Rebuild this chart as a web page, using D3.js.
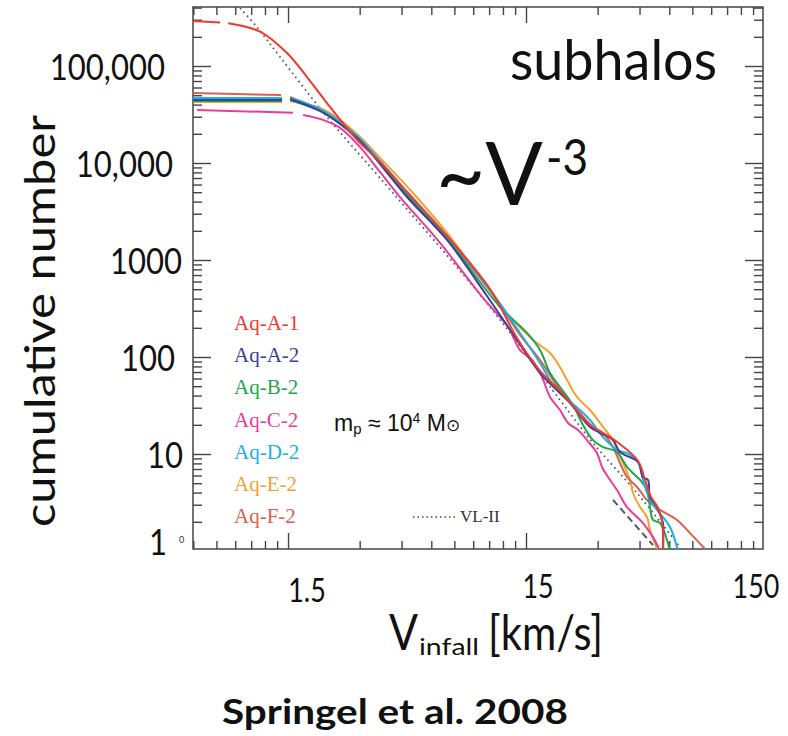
<!DOCTYPE html>
<html>
<head>
<meta charset="utf-8">
<script src="https://cdn.jsdelivr.net/npm/d3@7"></script>
<style>
  body { margin: 0; background: #fff; }
  svg { display: block; }
</style>
</head>
<body>
<div class="chart"></div>
<script>
// Each point is [V_infall (km/s), cumulative number of subhalos].
// null splits the unresolved plateau from the resolved part of a curve.
const aqA1 = [[0.598, 291000], [0.777, 281000], null,
  [0.840, 276000], [1.144, 226000], [1.485, 136000], [1.803, 77000], [2.252, 37800],
  [2.925, 17300], [3.653, 10240], [4.743, 5020], [6.986, 1770], [10.59, 502],
  [13.75, 157], [17.18, 71.7], [20.84, 44.6], [27.86, 19.9], [34.80, 14.3],
  [44.34, 8.47], [47.43, 5.40], [50.27, 3.60], [53.27, 2.91], [55.92, 2.04], [56.46, 1]];

const aqA2 = [[0.598, 44600], [1.416, 44600], null,
  [1.529, 45700], [2.044, 34400], [2.481, 25200], [3.011, 16900], [3.653, 9770],
  [4.743, 4460], [6.986, 1610], [10.28, 426], [13.75, 150], [17.18, 68.4],
  [20.84, 42.6], [22.96, 33.6], [27.86, 19.0], [30.69, 16.5], [34.80, 13.9],
  [37.24, 10.5], [44.34, 8.27], [46.53, 5.79], [48.83, 5.40], [49.78, 3.60],
  [53.27, 2.84], [55.92, 2.09], [56.46, 1.94], [56.46, 1]];

const aqB2 = [[0.598, 43600], [1.416, 43600], null,
  [1.529, 44600], [2.044, 34400], [2.481, 25900], [3.011, 17300], [3.653, 10000],
  [4.743, 4680], [6.986, 1650], [11.66, 328], [15.15, 177], [17.18, 118],
  [18.92, 68.4], [20.84, 49.1], [23.64, 32.0], [26.04, 19.9], [28.68, 13.9],
  [31.59, 11.8], [36.17, 10.5], [39.86, 7.35], [45.21, 5.40], [48.36, 4.25],
  [49.78, 2.84], [51.25, 2.09], [54.84, 1.94], [58.69, 1.30], [60.41, 1]];

const aqC2 = [[0.622, 35200], [1.574, 33000], null,
  [1.735, 31300], [2.104, 27800], [2.481, 23000], [3.011, 14600], [3.653, 8080],
  [4.433, 4460], [6.528, 1500], [9.895, 406], [12.60, 204], [14.16, 118],
  [15.90, 93.1], [17.51, 62.2], [18.92, 38.7], [20.84, 28.4], [22.52, 20.9],
  [24.81, 17.7], [27.06, 13.9], [29.82, 10.2], [31.29, 7.35], [33.16, 5.79],
  [36.17, 4.25], [39.86, 2.84], [46.53, 1.94], [51.25, 1.39], [54.84, 1]];

const aqD2 = [[0.598, 46800], [1.416, 46800], null,
  [1.529, 46800], [2.044, 36000], [2.481, 26500], [3.011, 17700], [3.653, 10500],
  [4.743, 5020], [6.986, 1770], [10.59, 491], [14.16, 177], [17.18, 86.7],
  [18.92, 57.9], [20.84, 42.6], [25.29, 28.4], [27.86, 22.4], [31.59, 15.0],
  [36.17, 11.0], [39.86, 10.2], [44.34, 8.27], [46.53, 5.40], [49.78, 3.36],
  [53.27, 2.65], [60.41, 1.77], [65.28, 1]];

const aqE2 = [[0.598, 42600], [1.416, 42600], null,
  [1.529, 43600], [2.044, 36900], [2.481, 27800], [3.011, 18500], [3.653, 11300],
  [5.027, 4910], [6.986, 1900], [9.612, 668], [10.59, 491], [12.48, 284],
  [16.05, 150], [18.92, 110], [20.84, 78.9], [22.31, 57.9], [24.57, 38.7],
  [27.86, 28.4], [31.59, 19.0], [34.80, 13.9], [36.17, 11.0], [38.34, 8.08],
  [41.03, 5.40], [42.24, 3.96], [45.21, 2.84], [48.36, 2.24], [49.78, 1.65], [53.79, 1]];

const aqF2 = [[0.598, 52700], [1.402, 50200], null,
  [1.529, 47900], [2.044, 35200], [2.481, 26500], [3.011, 17700], [3.653, 10240],
  [4.743, 4790], [6.986, 1690], [10.59, 479], [14.16, 169], [17.18, 93.1],
  [20.84, 45.7], [25.29, 26.5], [28.68, 19.0], [31.59, 16.5], [34.80, 11.8],
  [37.24, 8.08], [39.86, 5.79], [43.91, 4.57], [48.36, 3.36], [54.84, 2.65],
  [64.65, 2.09], [73.31, 1.53], [86.44, 1]];

// Via Lactea II comparison (dotted) and the short dashed segment near the bottom
const vl2 = [[0.943, 396000], [1.111, 252000], [1.388, 124000], [2.188, 29800],
  [3.653, 7000], [10.59, 328], [20.84, 36.0], [28.68, 13.0], [43.91, 3.96], [66.56, 1.10]];
const dashedTail = [[34.80, 3.36], [51.25, 1.15]];

const seriesNames = ["Aq-A-1", "Aq-A-2", "Aq-B-2", "Aq-C-2", "Aq-D-2", "Aq-E-2", "Aq-F-2"];
const seriesData = [aqA1, aqA2, aqB2, aqC2, aqD2, aqE2, aqF2];
const seriesColors = ["#ef3a2e", "#3c3f9c", "#1fa64a", "#ea3d98", "#1eaee6", "#f6a12e", "#d8604e"];
const drawOrder = [5, 6, 2, 4, 3, 1, 0];

const yTickValues = [1, 10, 100, 1000, 10000, 100000];
const yTickLabels = ["1", "10", "100", "1000", "10,000", "100,000"];
const xTickValues = [1.5, 15, 150];
const xTickLabels = ["1.5", "15", "150"];

// layout
const W = 788, H = 736;
const frame = {left: 193, right: 763, top: 7, bottom: 549};
const yLabelRight = [167, 183, 175, 182, 173, 165];   // right end of each y label
const xLabelShift = [19, 12, -8];

const svg = d3.select(".chart").append("svg")
  .attr("width", W).attr("height", H)
  .style("font-family", "Lato, 'Open Sans', sans-serif");

const x = d3.scaleLog().domain([0.598, 148.6]).range([frame.left, frame.right]);
const y = d3.scaleLog().domain([1.0486, 405800]).range([frame.bottom, frame.top]);

svg.append("clipPath").attr("id", "plot")
  .append("rect")
  .attr("x", frame.left).attr("y", frame.top)
  .attr("width", frame.right - frame.left).attr("height", frame.bottom - frame.top);

// tick values: majors at decades, minors at the in-between multiples
const xMajor = xTickValues.filter(v => v <= 148.6);
const xMinor = [];
[-1, 0, 1, 2].forEach(k => {
  for (let m = 2; m <= 9; m++) {
    const v = 1.5 * m * Math.pow(10, k);
    if (v >= 0.597 && v <= 148.6) xMinor.push(v);
  }
});
const yMajor = yTickValues.filter(v => v >= 1.0486);
const yMinor = [];
for (let k = 0; k <= 5; k++) {
  for (let m = 2; m <= 9; m++) {
    const v = m * Math.pow(10, k);
    if (v <= 405800) yMinor.push(v);
  }
}

function tickGroup(axis, tx, ty) {
  const g = svg.append("g")
    .attr("transform", `translate(${tx},${ty})`)
    .call(axis);
  g.select(".domain").remove();
  g.selectAll("line").attr("stroke", "#444").attr("stroke-width", 1.4);
  g.selectAll("text").remove();
}

tickGroup(d3.axisBottom(x).tickValues(xMinor).tickSize(-8).tickFormat(""), 0, frame.bottom);
tickGroup(d3.axisBottom(x).tickValues(xMajor).tickSize(-16).tickFormat(""), 0, frame.bottom);
tickGroup(d3.axisTop(x).tickValues(xMinor).tickSize(-8).tickFormat(""), 0, frame.top);
tickGroup(d3.axisTop(x).tickValues(xMajor).tickSize(-16).tickFormat(""), 0, frame.top);
tickGroup(d3.axisLeft(y).tickValues(yMinor).tickSize(-9).tickFormat(""), frame.left, 0);
tickGroup(d3.axisLeft(y).tickValues(yMajor).tickSize(-18).tickFormat(""), frame.left, 0);
tickGroup(d3.axisRight(y).tickValues(yMinor).tickSize(-9).tickFormat(""), frame.right, 0);
tickGroup(d3.axisRight(y).tickValues(yMajor).tickSize(-18).tickFormat(""), frame.right, 0);

// frame
svg.append("rect")
  .attr("x", frame.left).attr("y", frame.top)
  .attr("width", frame.right - frame.left).attr("height", frame.bottom - frame.top)
  .attr("fill", "none").attr("stroke", "#444").attr("stroke-width", 1.5);

// curves
const line = d3.line()
  .defined(d => d !== null)
  .curve(d3.curveCatmullRom.alpha(0.5))
  .x(d => x(d[0]))
  .y(d => y(d[1]));

const plot = svg.append("g").attr("clip-path", "url(#plot)");

plot.append("path")
  .datum(vl2)
  .attr("d", line)
  .attr("fill", "none")
  .attr("stroke", "#555")
  .attr("stroke-width", 1.8)
  .attr("stroke-dasharray", "1.6,3.6");

drawOrder.forEach(i => {
  plot.append("path")
    .datum(seriesData[i])
    .attr("d", line)
    .attr("fill", "none")
    .attr("stroke", seriesColors[i])
    .attr("stroke-width", 2)
    .attr("stroke-linejoin", "round");
});

plot.append("path")
  .datum(dashedTail)
  .attr("d", line)
  .attr("fill", "none")
  .attr("stroke", "#555")
  .attr("stroke-width", 2)
  .attr("stroke-dasharray", "7,4");

// squeeze a text horizontally to look like the narrow original face
function squeeze(sel, f) {
  sel.each(function() {
    const w = this.getComputedTextLength();
    d3.select(this).attr("textLength", w * f).attr("lengthAdjust", "spacingAndGlyphs");
  });
}

// y tick labels
yTickValues.forEach((v, i) => {
  const t = svg.append("text")
    .attr("x", yLabelRight[i])
    .attr("y", Math.min(y(v) + 14, 555))
    .attr("text-anchor", "end")
    .attr("font-size", 37)
    .attr("fill", "#111")
    .text(yTickLabels[i]);
  squeeze(t, 0.84);
});
svg.append("text")
  .attr("x", 179).attr("y", 543)
  .attr("font-size", 9).attr("fill", "#333")
  .text("0");

// x tick labels
xTickValues.forEach((v, i) => {
  const t = svg.append("text")
    .attr("x", x(v) + xLabelShift[i])
    .attr("y", i === 0 ? 602 : 598)
    .attr("text-anchor", "middle")
    .attr("font-size", 32)
    .attr("fill", "#111")
    .text(xTickLabels[i]);
  squeeze(t, 0.84);
});

// axis titles
svg.append("text")
  .attr("transform", "translate(55,527) rotate(-90)")
  .attr("font-size", 42)
  .attr("fill", "#111")
  .attr("textLength", 412)
  .attr("lengthAdjust", "spacingAndGlyphs")
  .text("cumulative number");

svg.append("text").attr("x", 389).attr("y", 650)
  .attr("font-size", 50).attr("fill", "#111")
  .attr("textLength", 29).attr("lengthAdjust", "spacingAndGlyphs")
  .text("V");
svg.append("text").attr("x", 419).attr("y", 655)
  .attr("font-size", 24).attr("fill", "#111")
  .attr("textLength", 60).attr("lengthAdjust", "spacingAndGlyphs")
  .text("infall");
svg.append("text").attr("x", 488).attr("y", 650)
  .attr("font-size", 48).attr("fill", "#111")
  .attr("textLength", 115).attr("lengthAdjust", "spacingAndGlyphs")
  .text("[km/s]");

// annotations
svg.append("text").attr("x", 510).attr("y", 80)
  .attr("font-size", 56).attr("fill", "#111")
  .attr("textLength", 207).attr("lengthAdjust", "spacingAndGlyphs")
  .text("subhalos");

svg.append("text").attr("x", 436).attr("y", 205)
  .attr("font-size", 88).attr("fill", "#111")
  .attr("textLength", 107).attr("lengthAdjust", "spacingAndGlyphs")
  .text("~V");
svg.append("text").attr("x", 546).attr("y", 175)
  .attr("font-size", 50).attr("fill", "#111")
  .attr("textLength", 42).attr("lengthAdjust", "spacingAndGlyphs")
  .text("-3");

const mp = svg.append("text").attr("x", 334).attr("y", 431)
  .attr("font-family", "'Liberation Sans', Arial, sans-serif")
  .attr("font-size", 23).attr("fill", "#111");
mp.append("tspan").text("m");
mp.append("tspan").attr("font-size", 15).attr("dy", 3).text("p");
mp.append("tspan").attr("dy", -3).text(" \u2248 10");
mp.append("tspan").attr("font-size", 14).attr("dy", -8).text("4");
mp.append("tspan").attr("dy", 8).text(" M");
mp.append("tspan").attr("font-size", 17).text("\u2299");

// legend
seriesNames.forEach((name, i) => {
  svg.append("text")
    .attr("x", 234).attr("y", 330 + i * 32.2)
    .attr("font-family", "'Liberation Serif', 'Times New Roman', serif")
    .attr("font-size", 21)
    .attr("fill", seriesColors[i])
    .text(name);
});

svg.append("line")
  .attr("x1", 413).attr("x2", 457).attr("y1", 517).attr("y2", 517)
  .attr("stroke", "#444").attr("stroke-width", 1.6)
  .attr("stroke-dasharray", "1.5,3");
svg.append("text").attr("x", 460).attr("y", 522)
  .attr("font-family", "'Liberation Serif', 'Times New Roman', serif")
  .attr("font-size", 17).attr("fill", "#333")
  .text("VL-II");

// citation
svg.append("text").attr("x", 222).attr("y", 724)
  .attr("font-size", 35).attr("font-weight", "bold").attr("fill", "#111")
  .attr("textLength", 346).attr("lengthAdjust", "spacingAndGlyphs")
  .text("Springel et al. 2008");
</script>
</body>
</html>
